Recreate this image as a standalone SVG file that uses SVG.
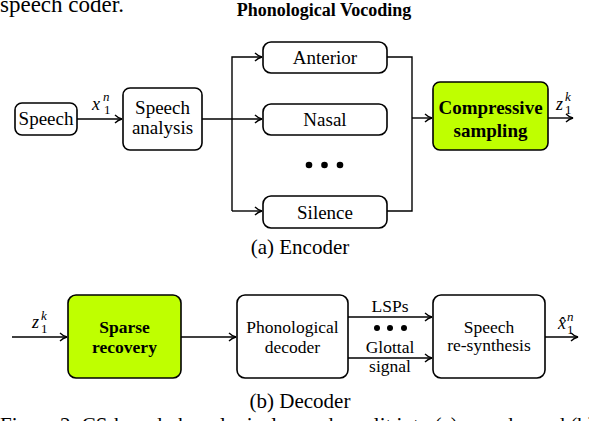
<svg xmlns="http://www.w3.org/2000/svg" width="589" height="421" viewBox="0 0 589 421" font-family="'Liberation Serif', 'Times New Roman', serif">
<style>
text{font-family:"Liberation Serif","Times New Roman",serif;fill:#000}
.box{fill:#fff;stroke:#000;stroke-width:1.6}
.cs{fill:#bfff00;stroke:#000;stroke-width:1.6}
.ln{fill:none;stroke:#000;stroke-width:1.4}
.t{font-size:19px;text-anchor:middle}
.d{font-size:17.5px;text-anchor:middle}
.b{font-size:19px;font-weight:bold;text-anchor:middle}
.bd{font-size:17.5px;font-weight:bold;text-anchor:middle}
.m{font-size:18px;font-style:italic}
.s{font-size:13px}
.cap{font-size:21px;text-anchor:middle}
</style>
<defs>
<marker id="ah" viewBox="0 0 10 10" refX="9" refY="5" markerWidth="10" markerHeight="10" markerUnits="userSpaceOnUse" orient="auto">
<path d="M2,1 Q5,4 9,5 Q5,6 2,9" fill="none" stroke="#000" stroke-width="1.3"/>
</marker>
</defs>
<text x="0" y="12" font-size="23">speech coder.</text>
<text x="324" y="16" font-size="18" font-weight="bold" text-anchor="middle">Phonological Vocoding</text>

<g id="connectors">
<path class="ln" d="M77,119 H122" marker-end="url(#ah)"/>
<path class="ln" d="M202,119 H262" marker-end="url(#ah)"/>
<path class="ln" d="M232,211 V57 H262" marker-end="url(#ah)"/>
<path class="ln" d="M232,211 H262" marker-end="url(#ah)"/>
<path class="ln" d="M387,57 H412 V211 H387"/>
<path class="ln" d="M412,118 H432" marker-end="url(#ah)"/>
<path class="ln" d="M548,118 H573" marker-end="url(#ah)"/>
<path class="ln" d="M12,337 H67" marker-end="url(#ah)"/>
<path class="ln" d="M181,337 H236" marker-end="url(#ah)"/>
<path class="ln" d="M348,317 H432" marker-end="url(#ah)"/>
<path class="ln" d="M348,358 H432" marker-end="url(#ah)"/>
<path class="ln" d="M545,337 H578" marker-end="url(#ah)"/>
</g>

<g id="labels">
<text x="92" y="110" class="m">x</text><text x="103" y="101" class="m s">n</text><text x="104" y="114" class="s">1</text>
<text x="556" y="110" class="m">z</text><text x="565" y="101" class="m s">k</text><text x="565" y="114" class="s">1</text>
<text x="32" y="328" class="m">z</text><text x="41" y="320" class="m s">k</text><text x="41" y="333" class="s">1</text>
<text x="558" y="329" class="m">x̂</text><text x="567" y="321" class="m s">n</text><text x="567" y="334" class="s">1</text>
<text x="390" y="312" class="d">LSPs</text>
<g fill="#000"><circle cx="377" cy="328" r="3"/><circle cx="390" cy="328" r="3"/><circle cx="404" cy="328" r="3"/></g>
<text x="390" y="353" class="d">Glottal</text>
<text x="390" y="372" class="d">signal</text>
<g fill="#000"><circle cx="309" cy="165" r="3.3"/><circle cx="324.5" cy="165" r="3.3"/><circle cx="340" cy="165" r="3.3"/></g>
</g>

<g id="speech"><rect class="box" x="15" y="103" width="62" height="32" rx="7"/><text x="46" y="125" class="t">Speech</text></g>
<g id="analysis"><rect class="box" x="123" y="88" width="79" height="62" rx="7"/><text x="162.5" y="114" class="t">Speech</text><text x="162.5" y="134" class="t">analysis</text></g>
<g id="anterior"><rect class="box" x="263" y="42" width="124" height="31" rx="8"/><text x="325" y="64" class="t">Anterior</text></g>
<g id="nasal"><rect class="box" x="263" y="104" width="124" height="31" rx="8"/><text x="325" y="126" class="t">Nasal</text></g>
<g id="silence"><rect class="box" x="263" y="196" width="124" height="32" rx="8"/><text x="325" y="219" class="t">Silence</text></g>
<g id="compressive"><rect class="cs" x="433" y="82" width="115" height="68" rx="7"/><text x="490.5" y="114" class="b">Compressive</text><text x="490.5" y="137" class="b">sampling</text></g>
<text x="300" y="254" class="cap">(a) Encoder</text>

<g id="sparse"><rect class="cs" x="68" y="295" width="113" height="83" rx="8"/><text x="124.5" y="333" class="bd">Sparse</text><text x="124.5" y="353" class="bd">recovery</text></g>
<g id="phondec"><rect class="box" x="237" y="295" width="111" height="83" rx="8"/><text x="292.5" y="333" class="d">Phonological</text><text x="292.5" y="353" class="d">decoder</text></g>
<g id="resynth"><rect class="box" x="433" y="295" width="112" height="83" rx="8"/><text x="489" y="333" class="d">Speech</text><text x="489" y="351" class="d">re-synthesis</text></g>
<text x="300" y="408" class="cap">(b) Decoder</text>
<text x="0" y="432" font-size="21">Figure 2: CS-based phonological vocoder split into (a) encoder and (b)</text>
</svg>
